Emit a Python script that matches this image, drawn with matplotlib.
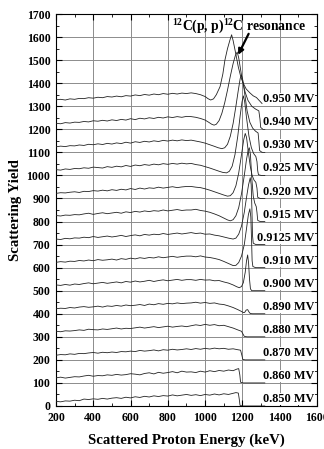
import numpy as np
import matplotlib
matplotlib.use("Agg")
import matplotlib.pyplot as plt
from matplotlib.ticker import MultipleLocator

plt.rcParams['font.family'] = 'Liberation Serif'
plt.rcParams['font.weight'] = 'bold'
plt.rcParams['mathtext.fontset'] = 'custom'
plt.rcParams['mathtext.rm'] = 'Liberation Serif:bold'
plt.rcParams['mathtext.default'] = 'rm'

# beam energies (MV), one spectrum each, stacked by 100 counts
labels = ['0.850', '0.860', '0.870', '0.880', '0.890', '0.900', '0.910',
          '0.9125', '0.915', '0.920', '0.925', '0.930', '0.940', '0.950']
offsets = [0, 100, 200, 300, 400, 500, 600, 700, 800, 900, 1000, 1100, 1200, 1300]

# flat part of the spectra, energies 200..900 keV every 25 keV
e_flat = np.arange(200, 925, 25)
flat_850 = [20, 18, 22, 21, 25, 23, 30, 28, 31, 29, 33, 30, 34, 36, 33, 38, 35, 40, 37, 42, 39, 44, 41, 45, 43, 48, 44, 47, 50]
flat_860 = [22, 25, 21, 24, 27, 26, 30, 33, 29, 32, 31, 35, 33, 37, 34, 36, 40, 38, 35, 41, 44, 39, 46, 42, 45, 49, 44, 51, 47]
flat_870 = [20, 23, 22, 26, 24, 28, 27, 30, 32, 29, 33, 31, 34, 32, 36, 35, 38, 36, 41, 38, 40, 43, 39, 44, 42, 46, 43, 45, 48]
flat_880 = [24, 22, 26, 25, 27, 30, 28, 33, 31, 30, 34, 32, 35, 38, 34, 37, 36, 39, 42, 38, 41, 44, 40, 43, 46, 42, 45, 47, 44]
flat_890 = [22, 24, 23, 27, 25, 29, 31, 28, 30, 33, 29, 34, 32, 36, 33, 38, 35, 37, 40, 36, 42, 39, 44, 41, 45, 43, 47, 44, 46]
flat_900 = [25, 23, 27, 24, 29, 27, 31, 34, 30, 33, 36, 32, 35, 38, 34, 40, 37, 42, 38, 41, 45, 40, 44, 47, 43, 46, 49, 45, 48]
flat_910 = [23, 26, 24, 28, 27, 31, 29, 33, 30, 35, 32, 34, 37, 33, 39, 36, 41, 38, 43, 40, 44, 42, 47, 43, 46, 49, 45, 48, 50]
flat_9125 = [24, 22, 27, 25, 29, 28, 32, 30, 35, 31, 34, 37, 33, 36, 40, 35, 39, 42, 38, 44, 41, 45, 43, 48, 44, 47, 50, 46, 49]
flat_915 = [26, 24, 28, 27, 30, 29, 33, 36, 31, 35, 38, 34, 37, 40, 36, 42, 39, 44, 41, 46, 43, 47, 45, 50, 46, 49, 52, 48, 50]
flat_920 = [22, 25, 24, 27, 29, 26, 31, 30, 34, 32, 36, 33, 38, 35, 40, 37, 43, 39, 45, 41, 46, 44, 49, 45, 48, 51, 47, 50, 52]
flat_925 = [25, 23, 28, 26, 30, 29, 33, 31, 36, 34, 32, 38, 35, 40, 37, 43, 39, 45, 42, 47, 44, 49, 46, 51, 48, 52, 49, 53, 50]
flat_930 = [24, 27, 25, 29, 28, 32, 30, 35, 33, 37, 34, 39, 36, 41, 38, 44, 40, 46, 43, 48, 45, 50, 47, 52, 49, 53, 50, 54, 51]
flat_940 = [26, 24, 29, 27, 31, 30, 34, 32, 37, 35, 39, 36, 41, 38, 43, 40, 46, 42, 48, 45, 50, 47, 52, 49, 54, 51, 55, 52, 56]
flat_950 = [28, 30, 27, 32, 30, 34, 33, 37, 35, 39, 37, 42, 40, 44, 41, 46, 44, 49, 46, 51, 48, 53, 50, 55, 52, 56, 53, 57, 55]

# resonance / edge region, (energy keV, counts above offset)
tail_850 = [(925, 46), (950, 49), (975, 45), (1000, 50), (1025, 47), (1050, 52), (1075, 48), (1100, 53),
            (1125, 50), (1150, 55), (1165, 58), (1178, 56), (1183, 30), (1187, 3), (1200, 0), (1320, 0)]
tail_860 = [(925, 48), (950, 45), (975, 51), (1000, 47), (1025, 53), (1050, 49), (1075, 54), (1100, 51),
            (1125, 56), (1150, 53), (1170, 60), (1180, 62), (1186, 35), (1190, 3), (1205, 0), (1320, 0)]
tail_870 = [(925, 45), (950, 49), (975, 46), (1000, 50), (1025, 47), (1050, 51), (1075, 48), (1100, 50),
            (1125, 46), (1150, 48), (1175, 44), (1190, 42), (1197, 20), (1202, 2), (1215, 0), (1320, 0)]
tail_880 = [(925, 48), (950, 52), (975, 49), (1000, 54), (1025, 50), (1050, 53), (1075, 48), (1100, 50),
            (1125, 44), (1150, 38), (1175, 30), (1195, 24), (1203, 12), (1210, 2), (1225, 0), (1320, 0)]
tail_890 = [(925, 47), (950, 50), (975, 46), (1000, 49), (1025, 45), (1050, 47), (1075, 42), (1100, 40),
            (1125, 34), (1150, 27), (1175, 18), (1195, 10), (1205, 5), (1212, 6), (1220, 16), (1228, 18),
            (1235, 8), (1242, 1), (1255, 0), (1320, 0)]
tail_900 = [(925, 48), (950, 45), (975, 49), (1000, 46), (1025, 47), (1050, 43), (1075, 44), (1100, 38),
            (1125, 33), (1150, 25), (1170, 17), (1183, 13), (1195, 18), (1205, 35), (1215, 80), (1222, 130),
            (1228, 155), (1233, 120), (1238, 50), (1243, 8), (1250, 0), (1320, 0)]
tail_910 = [(925, 50), (950, 47), (975, 51), (1000, 46), (1025, 44), (1050, 40), (1075, 35), (1100, 27),
            (1125, 18), (1150, 9), (1165, 10), (1180, 22), (1195, 50), (1210, 100), (1222, 170), (1232, 230),
            (1240, 255), (1245, 220), (1249, 120), (1252, 30), (1256, 5), (1270, 0), (1320, 0)]
tail_9125 = [(925, 52), (950, 48), (975, 50), (1000, 45), (1025, 46), (1050, 41), (1075, 38), (1100, 33),
             (1125, 28), (1150, 24), (1165, 28), (1180, 45), (1195, 80), (1210, 140), (1222, 205), (1233, 260),
             (1242, 290), (1247, 260), (1251, 150), (1254, 40), (1258, 6), (1272, 0), (1320, 0)]
tail_915 = [(925, 50), (950, 53), (975, 48), (1000, 45), (1025, 40), (1050, 33), (1075, 25), (1100, 15),
            (1120, 7), (1135, 3), (1150, 8), (1165, 25), (1180, 60), (1195, 120), (1210, 200), (1222, 270),
            (1231, 310), (1237, 320), (1243, 290), (1250, 190), (1258, 110), (1266, 80), (1274, 65),
            (1278, 40), (1282, 5), (1295, 0), (1320, 0)]
tail_920 = [(925, 52), (950, 49), (975, 47), (1000, 42), (1025, 36), (1050, 29), (1075, 22), (1100, 15),
            (1120, 10), (1135, 12), (1150, 25), (1165, 55), (1180, 110), (1195, 190), (1207, 255), (1215, 282),
            (1222, 265), (1232, 200), (1242, 140), (1252, 100), (1262, 80), (1272, 70), (1278, 45),
            (1282, 5), (1295, 0), (1320, 0)]
tail_925 = [(925, 52), (950, 47), (975, 44), (1000, 38), (1025, 32), (1050, 25), (1075, 18), (1095, 13),
            (1115, 11), (1130, 18), (1145, 40), (1160, 90), (1175, 170), (1188, 260), (1198, 320), (1205, 345),
            (1212, 320), (1222, 250), (1235, 170), (1248, 120), (1260, 95), (1272, 82), (1278, 60),
            (1282, 20), (1286, 3), (1300, 0), (1320, 0)]
tail_930 = [(925, 53), (950, 49), (975, 45), (1000, 40), (1025, 33), (1050, 26), (1070, 20), (1090, 16),
            (1105, 20), (1120, 35), (1135, 70), (1150, 125), (1165, 200), (1178, 270), (1188, 320), (1195, 335),
            (1203, 310), (1213, 250), (1225, 180), (1240, 130), (1255, 105), (1270, 92), (1284, 84),
            (1288, 50), (1292, 8), (1305, 0), (1320, 0)]
tail_940 = [(925, 55), (950, 52), (975, 47), (1000, 40), (1020, 30), (1035, 22), (1048, 18), (1060, 22),
            (1075, 38), (1090, 70), (1105, 115), (1120, 170), (1135, 230), (1150, 285), (1162, 320), (1172, 335),
            (1180, 310), (1190, 260), (1200, 210), (1215, 160), (1230, 125), (1250, 100), (1270, 88),
            (1288, 80), (1294, 45), (1298, 8), (1310, 0), (1320, 0)]
tail_950 = [(925, 58), (950, 55), (975, 50), (1000, 42), (1015, 33), (1030, 27), (1045, 32), (1060, 50),
            (1080, 85), (1095, 140), (1106, 200), (1120, 250), (1133, 287), (1142, 310), (1150, 285),
            (1160, 245), (1178, 170), (1192, 125), (1205, 99), (1220, 75), (1240, 58), (1258, 45),
            (1275, 38), (1290, 25), (1305, 12)]

flats = [flat_850, flat_860, flat_870, flat_880, flat_890, flat_900, flat_910,
         flat_9125, flat_915, flat_920, flat_925, flat_930, flat_940, flat_950]
tails = [tail_850, tail_860, tail_870, tail_880, tail_890, tail_900, tail_910,
         tail_9125, tail_915, tail_920, tail_925, tail_930, tail_940, tail_950]

fig = plt.figure(figsize=(3.24, 4.49), dpi=100)
ax = fig.add_axes([0.1728, 0.0958, 0.8056, 0.873])

for lab, off, fl, tl in zip(labels, offsets, flats, tails):
    te = [p[0] for p in tl]
    ty = [p[1] for p in tl]
    e = np.concatenate([e_flat, te])
    y = np.concatenate([fl, ty]) + off
    ax.plot(e, y, color='#222222', lw=0.6, zorder=3)
    ax.text(1587, off + 30, lab + ' MV', ha='right', va='center', fontsize=8.8,
            fontweight='bold', zorder=4,
            bbox=dict(facecolor='white', edgecolor='none', pad=0.3))

ax.annotate('', xy=(1170, 1512), xytext=(1240, 1625),
            arrowprops=dict(arrowstyle='-|>', color='black', lw=1.6, mutation_scale=8), zorder=5)
ax.text(1184, 1644, r'$^{12}$C(p, p)$^{12}$C resonance', ha='center', va='center',
        fontsize=9.8, fontweight='bold', zorder=5)

ax.set_xlim(200, 1600)
ax.set_ylim(0, 1700)
ax.xaxis.set_major_locator(MultipleLocator(200))
ax.xaxis.set_minor_locator(MultipleLocator(100))
ax.yaxis.set_major_locator(MultipleLocator(100))
ax.yaxis.set_minor_locator(MultipleLocator(50))
ax.grid(True, which='major', color='#8c8c8c', lw=0.7, zorder=1)
ax.tick_params(which='both', direction='in', top=True, right=True, labelsize=8.5, pad=4)
ax.tick_params(which='major', length=4, width=0.8)
ax.tick_params(which='minor', length=2.5, width=0.6)
for lbl in ax.get_xticklabels() + ax.get_yticklabels():
    lbl.set_fontweight('bold')
for sp in ax.spines.values():
    sp.set_linewidth(0.8)

ax.set_xlabel('Scattered Proton Energy (keV)', fontsize=10.7, fontweight='bold', labelpad=7)
ax.set_ylabel('Scattering Yield', fontsize=10.7, fontweight='bold', labelpad=3)

fig.savefig('out.png', dpi=100)
